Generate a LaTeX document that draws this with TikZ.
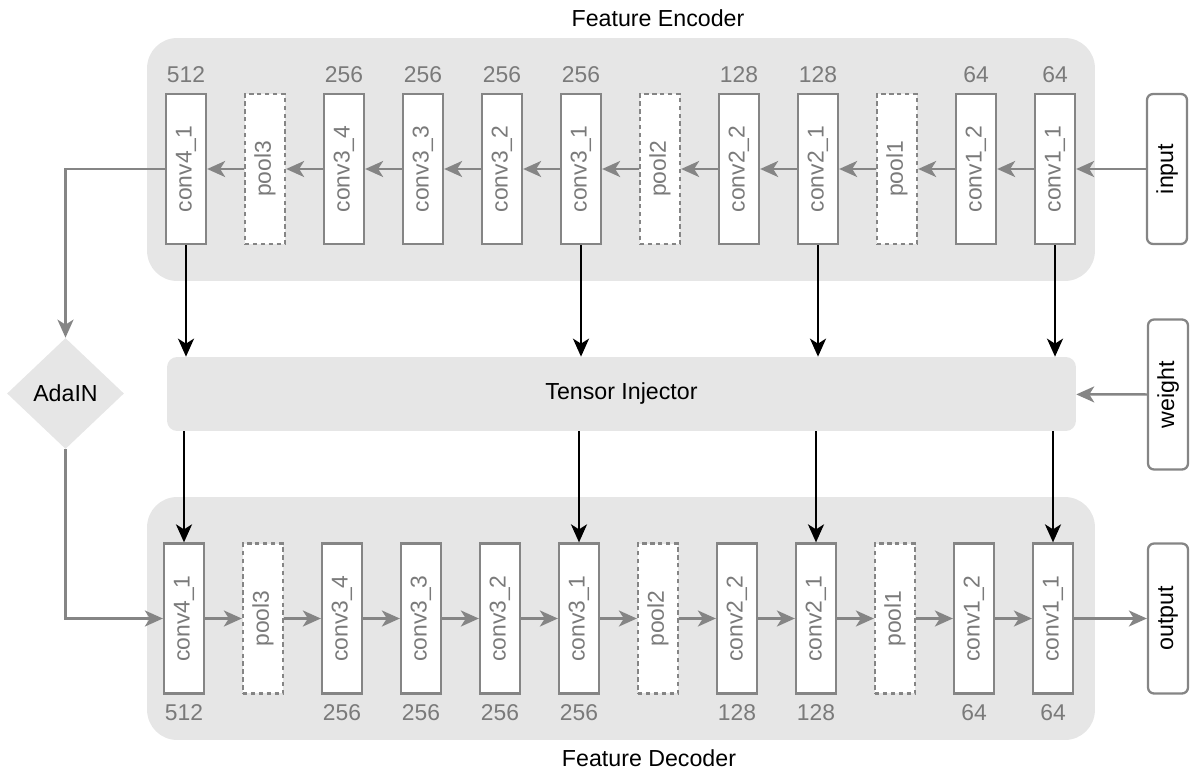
\documentclass[tikz,border=0pt]{standalone}
\usepackage{fontspec}
\setmainfont{Liberation Sans}
\usetikzlibrary{arrows.meta,positioning,shapes.geometric}

\definecolor{panelgray}{HTML}{E6E6E6}
\definecolor{linegray}{HTML}{858585}
\definecolor{textgray}{HTML}{7A7A7A}

\newcommand{\vlabel}[1]{\rotatebox{90}{#1}}

\tikzset{
  panel/.style={fill=panelgray, inner sep=0pt},
  convbox/.style={draw=linegray, fill=white, line width=1.3pt, minimum width=0.8cm, minimum height=3cm,
    inner sep=0pt, text=textgray, font=\fontsize{13}{15}\selectfont},
  poolbox/.style={convbox, dash pattern=on 2.5pt off 2pt},
  iobox/.style={draw=linegray, fill=white, line width=1.3pt, rounded corners=0.12cm, minimum width=0.8cm,
    minimum height=3cm, inner sep=0pt},
  chan/.style={text=textgray, font=\fontsize{13}{15}\selectfont},
  flow/.style={draw=linegray, line width=1.4pt, -{Stealth[length=0.36cm, width=0.32cm, inset=0.1cm]}},
  inject/.style={draw=black, line width=1.4pt, -{Stealth[length=0.36cm, width=0.32cm, inset=0.1cm]}},
}

\begin{document}
\begin{tikzpicture}[x=0.02cm, y=-0.02cm, font=\fontsize{13.2}{15}\selectfont]
  \useasboundingbox (0,0) rectangle (1192,773);
  % panels
  \node[panel, rounded corners=0.6cm, minimum width=18.96cm, minimum height=4.86cm] (encpanel) at (621,159.5) {};
  \node[panel, rounded corners=0.6cm, minimum width=18.96cm, minimum height=4.86cm] (decpanel) at (621,618.5) {};
  \node (enctitle) at (658,18) {Feature Encoder};
  \node (dectitle) at (649,758) {Feature Decoder};
  % layers
  \foreach \lbl/\sty [count=\i] in {conv4\_1/convbox, pool3/poolbox, conv3\_4/convbox, conv3\_3/convbox,
      conv3\_2/convbox, conv3\_1/convbox, pool2/poolbox, conv2\_2/convbox, conv2\_1/convbox,
      pool1/poolbox, conv1\_2/convbox, conv1\_1/convbox}{
    \pgfmathsetmacro{\x}{186+79*(\i-1)}
    \node[\sty] (enc\i) at (\x,169) {\vlabel{\lbl}};
    \node[\sty] (dec\i) at (\x-2,618.5) {\vlabel{\lbl}};
  }
  % channels
  \foreach \i/\num in {1/512, 3/256, 4/256, 5/256, 6/256, 8/128, 9/128, 11/64, 12/64}{
    \node[chan, above=2pt of enc\i] (encn\i) {\num};
    \node[chan, below=2pt of dec\i] (decn\i) {\num};
  }
  % side boxes
  \node[iobox] (in) at (1167,169) {\vlabel{input}};
  \node[iobox] (wt) at (1168,394.5) {\vlabel{weight}};
  \node[iobox] (out) at (1168,618.5) {\vlabel{output}};
  \node[panel, rounded corners=0.2cm, minimum width=18.18cm, minimum height=1.48cm] (ti) at (621.5,394) {Tensor Injector};
  \node[panel, diamond, minimum width=2.34cm, minimum height=2.22cm] (ada) at (65.5,393.5) {AdaIN};
  % connections
  \foreach \i [evaluate=\i as \j using int(\i+1)] in {1,...,11}{
    \draw[flow] (enc\j) -- (enc\i);
    \draw[flow] (dec\i) -- (dec\j);
  }
  \draw[flow] (in) -- (enc12);
  \draw[flow] (dec12) -- (out);
  \draw[flow] (wt) -- (ti);
  \draw[flow] (enc1) -| (ada);
  \draw[flow] (ada) |- (dec1);
  \foreach \i in {1,6,9,12}{
    \draw[inject] (enc\i) -- (enc\i |- ti.north);
    \draw[inject] (ti.south -| dec\i) -- (dec\i);
  }
\end{tikzpicture}
\end{document}
